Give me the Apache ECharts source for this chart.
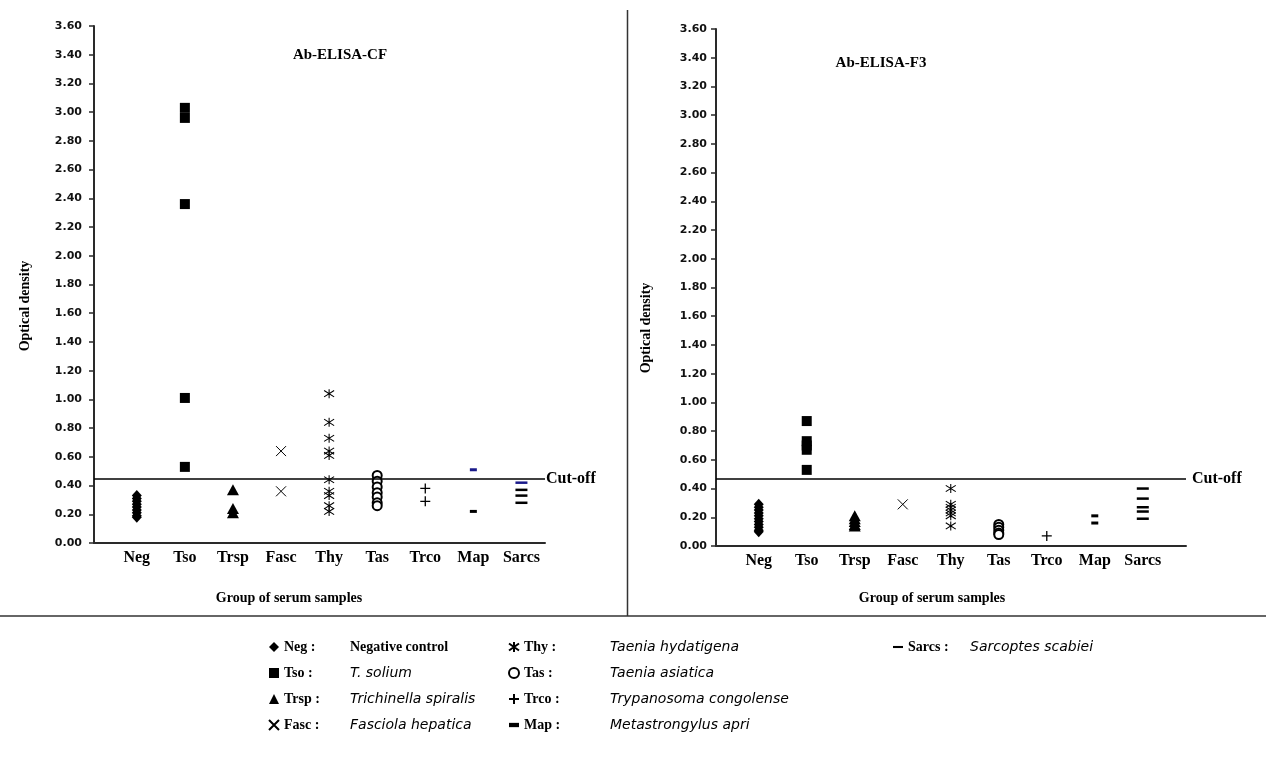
<!DOCTYPE html>
<html>
<head>
<meta charset="utf-8">
<title>Ab-ELISA optical density by serum group</title>
<script src="https://cdn.jsdelivr.net/npm/echarts@6/dist/echarts.min.js"></script>
<style>
  html, body { margin: 0; padding: 0; background: #fff; }
  #chart { width: 1266px; height: 779px; }
</style>
</head>
<body>
<div id="chart"></div>
<script>
// Serum sample groups (x axis categories, in order)
const groups = ['Neg', 'Tso', 'Trsp', 'Fasc', 'Thy', 'Tas', 'Trco', 'Map', 'Sarcs'];

// Y axis ticks
const yTicks = { min: 0, max: 3.6, step: 0.2 };

// Ab-ELISA-CF optical densities per group
const negCF   = [0.33, 0.31, 0.29, 0.27, 0.25, 0.23, 0.21, 0.19, 0.18];
const tsoCF   = [3.03, 2.96, 2.36, 1.01, 0.53];
const trspCF  = [0.37, 0.24, 0.21];
const fascCF  = [0.64, 0.36];
const thyCF   = [1.04, 0.84, 0.73, 0.64, 0.61, 0.44, 0.36, 0.33, 0.26, 0.22];
const tasCF   = [0.47, 0.43, 0.39, 0.35, 0.32, 0.28, 0.26];
const trcoCF  = [0.38, 0.29];
const mapCF   = [0.51, 0.22];
const sarcsCF = [0.42, 0.37, 0.33, 0.28];
const cutoffCF = 0.45;

// Ab-ELISA-F3 optical densities per group
const negF3   = [0.29, 0.27, 0.25, 0.23, 0.21, 0.19, 0.17, 0.15, 0.13, 0.11, 0.10];
const tsoF3   = [0.87, 0.73, 0.70, 0.67, 0.53];
const trspF3  = [0.21, 0.19, 0.17, 0.15, 0.14];
const fascF3  = [0.29];
const thyF3   = [0.40, 0.29, 0.27, 0.25, 0.23, 0.21, 0.14];
const tasF3   = [0.15, 0.13, 0.11, 0.09, 0.08];
const trcoF3  = [0.07];
const mapF3   = [0.21, 0.16];
const sarcsF3 = [0.40, 0.33, 0.27, 0.24, 0.19];
const cutoffF3 = 0.47;

// Legend wording: group code and organism
const legendCodes = ['Neg :', 'Tso :', 'Trsp :', 'Fasc :', 'Thy :', 'Tas :', 'Trco :', 'Map :', 'Sarcs :'];
const legendNames = ['Negative control', 'T. solium', 'Trichinella spiralis', 'Fasciola hepatica',
  'Taenia hydatigena', 'Taenia asiatica', 'Trypanosoma congolense', 'Metastrongylus apri', 'Sarcoptes scabiei'];

const panelValues = [
  [negCF, tsoCF, trspCF, fascCF, thyCF, tasCF, trcoCF, mapCF, sarcsCF],
  [negF3, tsoF3, trspF3, fascF3, thyF3, tasF3, trcoF3, mapF3, sarcsF3]
];
const cutoffs = [cutoffCF, cutoffF3];

// ---- styling ----
const SERIF = '"Liberation Serif", "Times New Roman", serif';
const SANS = '"DejaVu Sans", "Liberation Sans", sans-serif';
const INK = '#000';
const AXIS = '#2a2a2a';
const BLUE = '#1a1a8a';

const lineMarker = { color: INK, borderColor: INK, borderWidth: 1 };
const markers = {
  Neg:   { symbol: 'diamond', size: [10, 11], style: { color: INK } },
  Tso:   { symbol: 'rect', size: 10, style: { color: INK } },
  Trsp:  { symbol: 'triangle', size: [12, 11], style: { color: INK } },
  Fasc:  { symbol: 'path://M0,0L10,10M10,0L0,10', size: 10, style: lineMarker },
  Thy:   { symbol: 'path://M0,1.5L10,8.5M10,1.5L0,8.5M5,0L5,10', size: [10, 9], style: lineMarker },
  Tas:   { symbol: 'emptyCircle', size: 9, style: { color: INK, borderWidth: 1.1 } },
  Trco:  { symbol: 'path://M5,0L5,10M0,5L10,5', size: 10, style: { color: INK, borderColor: INK, borderWidth: 1.3 } },
  Map:   { symbol: 'path://M0,0L10,0L10,4L0,4Z', size: [7, 3], style: { color: INK } },
  Sarcs: { symbol: 'path://M0,0L10,0L10,2L0,2Z', size: [12, 2.5], style: { color: INK } }
};
// groups whose first plotted point is drawn in blue on the CF panel
const blueFirstCF = ['Map', 'Sarcs'];

const legendIcons = {
  Neg: 'diamond', Tso: 'rect', Trsp: 'triangle',
  Fasc: 'path://M0,0L10,10M10,0L0,10',
  Thy: 'path://M0,1.5L10,8.5M10,1.5L0,8.5M5,0L5,10',
  Tas: 'emptyCircle',
  Trco: 'path://M5,0L5,10M0,5L10,5',
  Map: 'path://M0,0L7,0L7,3L0,3Z',
  Sarcs: 'path://M0,0L12,0L12,2.5L0,2.5Z'
};

const grids = [
  { left: 94, top: 26, width: 451, height: 517 },
  { left: 716, top: 29, width: 470, height: 517 }
];
const xRanges = [[0.11, 9.49], [0.11, 9.9]];
const labelMargins = [12, 9];

const xAxes = grids.map((g, p) => ({
  type: 'value', gridIndex: p, min: xRanges[p][0], max: xRanges[p][1],
  splitLine: { show: false },
  axisTick: { show: false },
  axisLine: { show: true, onZero: false, lineStyle: { color: AXIS, width: 2 } },
  axisLabel: {
    customValues: groups.map((_, i) => i + 1),
    formatter: v => groups[Math.round(v) - 1] || '',
    margin: 7, color: INK, fontFamily: SERIF, fontWeight: 'bold', fontSize: 16
  }
}));

const yAxes = grids.map((g, p) => ({
  type: 'value', gridIndex: p, min: yTicks.min, max: yTicks.max, interval: yTicks.step,
  splitLine: { show: false },
  axisLine: { show: true, lineStyle: { color: AXIS, width: 2 } },
  axisTick: { show: true, length: 5, lineStyle: { color: AXIS, width: 1.5 } },
  axisLabel: {
    formatter: v => v.toFixed(2), margin: labelMargins[p],
    color: '#111', fontFamily: SANS, fontWeight: 'bold', fontSize: 11
  }
}));

const series = [];
panelValues.forEach((vals, p) => {
  groups.forEach((g, i) => {
    const m = markers[g];
    series.push({
      type: 'scatter', name: g, xAxisIndex: p, yAxisIndex: p,
      symbol: m.symbol, symbolSize: m.size,
      itemStyle: Object.assign({ opacity: 1 }, m.style),
      emphasis: { disabled: true },
      data: vals[i].map((v, k) => {
        const item = { value: [i + 1, v] };
        if (p === 0 && k === 0 && blueFirstCF.includes(g)) item.itemStyle = { color: BLUE };
        return item;
      })
    });
  });
  // cut-off line
  series.push({
    type: 'scatter', name: 'cutoff' + p, xAxisIndex: p, yAxisIndex: p, data: [],
    markLine: {
      silent: true, symbol: 'none',
      lineStyle: { color: INK, width: 1.5, type: 'solid' },
      label: {
        show: true, position: 'end', formatter: 'Cut-off', distance: p === 0 ? 1 : 6,
        color: INK, fontFamily: SERIF, fontWeight: 'bold', fontSize: 16
      },
      data: [{ yAxis: cutoffs[p] }]
    }
  });
});

// legend rich text, three columns
const colOf = i => (i < 4 ? 1 : i < 8 ? 2 : 3);
const codeStyle = w => ({ width: w, fontFamily: SERIF, fontWeight: 'bold', fontSize: 14, lineHeight: 14, color: INK });
const nameStyle = w => Object.assign({ fontFamily: SANS, fontStyle: 'italic', fontSize: 14, lineHeight: 14, color: INK }, w ? { width: w } : {});

function txt(text, x, y, size, rot) {
  return {
    type: 'text', x: x, y: y, rotation: rot || 0, silent: true,
    style: {
      text: text, fill: INK, font: 'bold ' + size + 'px ' + SERIF,
      align: 'center', verticalAlign: 'middle', textAlign: 'center', textVerticalAlign: 'middle'
    }
  };
}

const option = {
  backgroundColor: '#fff',
  animation: false,
  grid: grids,
  xAxis: xAxes,
  yAxis: yAxes,
  series: series,
  legend: {
    orient: 'vertical', left: 268, top: 640, height: 100, padding: 0,
    itemGap: 12, itemWidth: 10, itemHeight: 10, selectedMode: false,
    data: groups.map(g => ({ name: g, icon: legendIcons[g] })),
    formatter: name => {
      const i = groups.indexOf(name);
      const c = colOf(i);
      const ns = name === 'Neg' ? 'n' : 's';
      return '{k' + c + '|' + legendCodes[i] + '}{' + ns + c + '|' + legendNames[i] + '}';
    },
    textStyle: {
      color: INK,
      rich: {
        k1: codeStyle(66), k2: codeStyle(86), k3: codeStyle(62),
        s1: nameStyle(146), s2: nameStyle(270), s3: nameStyle(0),
        n1: { width: 146, fontFamily: SERIF, fontWeight: 'bold', fontSize: 14, lineHeight: 14, color: INK }
      }
    }
  },
  graphic: [
    { type: 'line', silent: true, shape: { x1: 627.5, y1: 10, x2: 627.5, y2: 616 }, style: { stroke: '#333', lineWidth: 1.5 } },
    { type: 'line', silent: true, shape: { x1: 0, y1: 616, x2: 1266, y2: 616 }, style: { stroke: '#333', lineWidth: 1.5 } },
    txt('Ab-ELISA-CF', 340, 55, 15),
    txt('Ab-ELISA-F3', 881, 63, 15),
    txt('Optical density', 25, 306, 14, Math.PI / 2),
    txt('Optical density', 646, 328, 14, Math.PI / 2),
    txt('Group of serum samples', 289, 598, 14),
    txt('Group of serum samples', 932, 598, 14)
  ]
};

const chart = echarts.init(document.getElementById('chart'), null, { renderer: 'canvas' });
chart.setOption(option);
</script>
</body>
</html>
